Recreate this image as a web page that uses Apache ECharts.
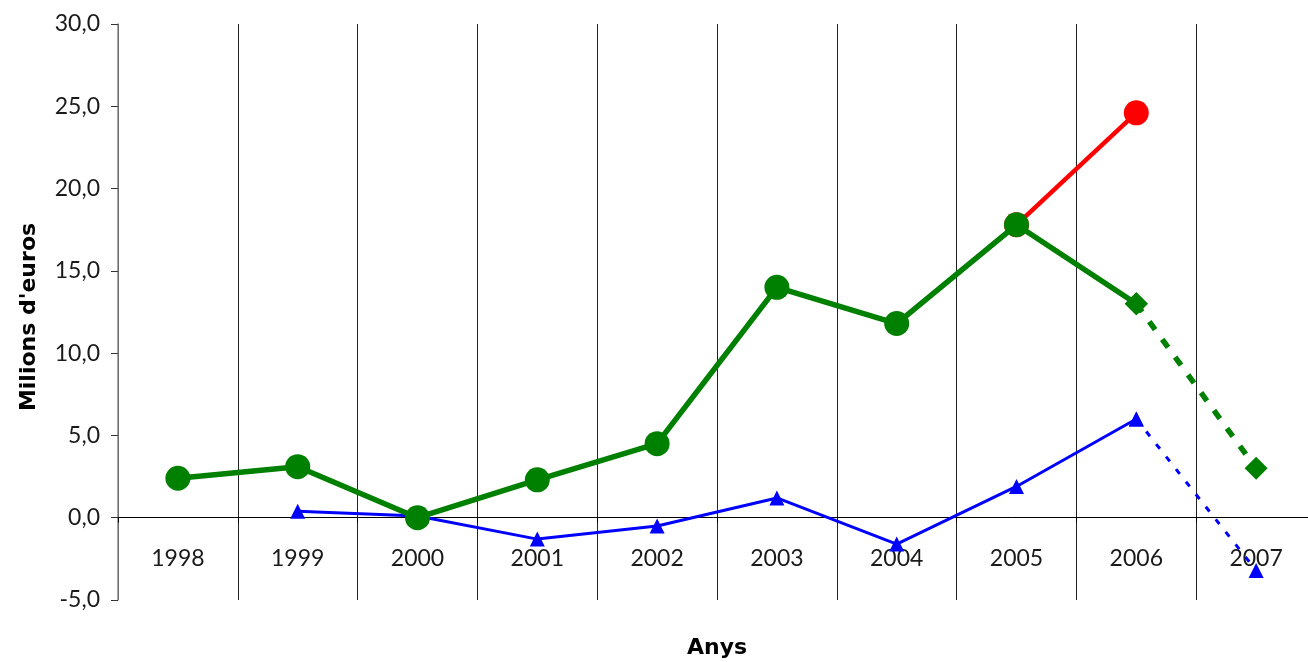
<!DOCTYPE html>
<html>
<head>
<meta charset="utf-8">
<script src="https://cdn.jsdelivr.net/npm/echarts@6/dist/echarts.min.js"></script>
<style>html,body{margin:0;padding:0;background:#fff}#c{width:1308px;height:662px}</style>
</head>
<body>
<div id="c"></div>
<script>
const years = ['1998','1999','2000','2001','2002','2003','2004','2005','2006','2007'];
const greenValues = [2.4, 3.1, 0.0, 2.3, 4.5, 14.0, 11.8, 17.8, 13.0, 3.0];
const redValues = [null, null, null, null, null, null, null, 17.8, 24.6, null];
const blueValues = [null, 0.4, 0.1, -1.3, -0.5, 1.2, -1.6, 1.9, 6.0, -3.2];
const yTicks = { min: -5, max: 30, interval: 5 };

const lastIdx = years.length - 1;
const solidPart = arr => arr.map((v, i) => i < lastIdx ? v : null);
const dashedPart = arr => arr.map((v, i) => i >= lastIdx - 1 ? v : null);

const greenSolid = solidPart(greenValues).map((v, i) => v === null ? null :
  (i >= lastIdx - 1 ? { value: v, symbol: 'diamond', symbolSize: 23 } : v));
const greenDashed = dashedPart(greenValues).map(v => v === null ? null : { value: v, symbol: 'diamond', symbolSize: 23 });

const chart = echarts.init(document.getElementById('c'), null, { renderer: 'canvas' });
const labelFont = { fontFamily: 'Lato', fontSize: 23, color: '#1a1a1a' };
chart.setOption({
  animation: false,
  grid: { left: 118, top: 24, right: -8, bottom: 62, containLabel: false, outerBoundsMode: 'none' },
  xAxis: {
    type: 'category',
    data: years,
    boundaryGap: true,
    name: 'Anys',
    nameLocation: 'middle',
    nameGap: 37,
    nameTextStyle: { fontFamily: 'DejaVu Sans', fontWeight: 'bold', fontSize: 22, color: '#000' },
    axisLine: { onZero: true, lineStyle: { color: '#000', width: 1 } },
    axisTick: { show: true, length: 5, interval: 0, lineStyle: { color: '#000' } },
    axisLabel: Object.assign({ margin: -53, interval: 0 }, labelFont),
    splitLine: { show: true, interval: 0, lineStyle: { color: '#222', width: 1 } }
  },
  yAxis: {
    type: 'value',
    min: yTicks.min, max: yTicks.max, interval: yTicks.interval,
    name: "Milions d'euros",
    nameLocation: 'middle',
    nameGap: 78,
    nameTextStyle: { fontFamily: 'DejaVu Sans', fontWeight: 'bold', fontSize: 22, color: '#000', padding: [0, 10, 0, 0] },
    axisLine: { show: true, lineStyle: { color: '#888', width: 1.5 } },
    axisTick: { show: true, length: 7, lineStyle: { color: '#333' } },
    axisLabel: Object.assign({ margin: 18, formatter: v => v.toFixed(1).replace('.', ',') }, labelFont),
    splitLine: { show: false }
  },
  series: [
    {
      type: 'line', data: redValues, z: 2,
      lineStyle: { color: '#ff0000', width: 4.5 },
      itemStyle: { color: '#ff0000' },
      symbol: 'circle', symbolSize: 25, showSymbol: true
    },
    {
      type: 'line', data: blueValues.map((v, i) => i < lastIdx ? v : null), z: 3,
      lineStyle: { color: '#0000ff', width: 3 },
      itemStyle: { color: '#0000ff' },
      symbol: 'triangle', symbolSize: 15
    },
    {
      type: 'line', data: dashedPart(blueValues), z: 3,
      lineStyle: { color: '#0000ff', width: 3, type: [6, 10] },
      itemStyle: { color: '#0000ff' },
      symbol: 'triangle', symbolSize: 15
    },
    {
      type: 'line', data: greenDashed, z: 4,
      lineStyle: { color: '#008000', width: 5.5, type: [10, 12] },
      itemStyle: { color: '#008000' },
      symbol: 'diamond', symbolSize: 23
    },
    {
      type: 'line', data: greenSolid, z: 5,
      lineStyle: { color: '#008000', width: 5.5 },
      itemStyle: { color: '#008000' },
      symbol: 'circle', symbolSize: 25
    }
  ]
});
</script>
</body>
</html>
